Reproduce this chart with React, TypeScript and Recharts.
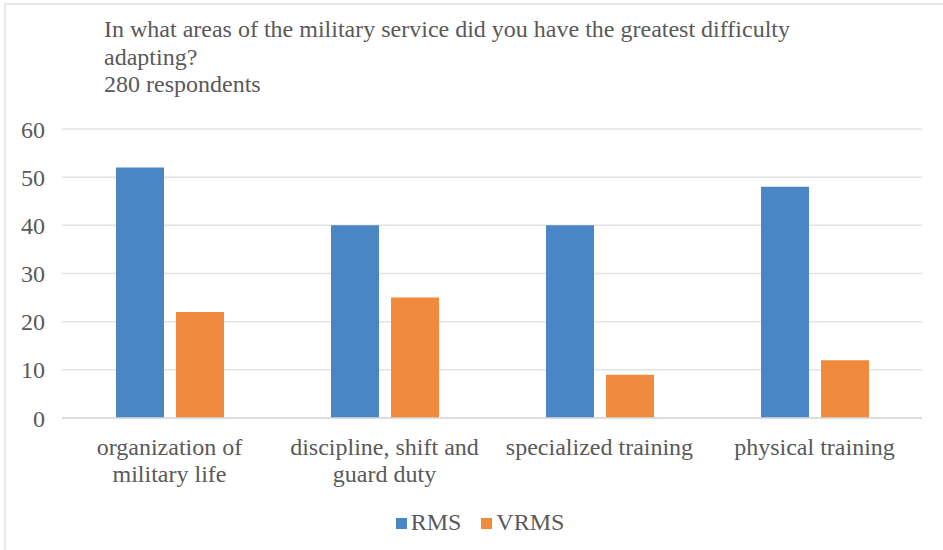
import React from "react";
import { BarChart, Bar, XAxis, YAxis, CartesianGrid, Legend } from "recharts";

const categories = [
  "organization of\nmilitary life",
  "discipline, shift and\nguard duty",
  "specialized training",
  "physical training",
];
const rmsValues = [52, 40, 40, 48];
const vrmsValues = [22, 25, 9, 12];
const yTicks = [0, 10, 20, 30, 40, 50, 60];
const titleLines = [
  "In what areas of the military service did you have the greatest difficulty",
  "adapting?",
  "280 respondents",
];
const seriesNames = ["RMS", "VRMS"];

const data = categories.map((c, i) => ({ name: c, RMS: rmsValues[i], VRMS: vrmsValues[i] }));

const FONT = "'Liberation Serif', 'Times New Roman', serif";
const TEXT = "#595959";
const BLUE = "#4A86C6";
const ORANGE = "#F08A3C";
const FS = 24;

const XTick = (props: any) => {
  const { x, y, payload } = props;
  const lines = String(payload.value).split("\n");
  return (
    <text x={x} y={y} textAnchor="middle" fill={TEXT} fontFamily={FONT} fontSize={FS}>
      {lines.map((l, i) => (
        <tspan key={i} x={x} dy={i === 0 ? 29 : 27}>
          {l}
        </tspan>
      ))}
    </text>
  );
};

const LegendContent = () => {
  const colors = [BLUE, ORANGE];
  return (
    <div
      style={{
        display: "flex",
        justifyContent: "center",
        paddingLeft: 38,
        height: 24,
        lineHeight: "24px",
        fontFamily: FONT,
        fontSize: FS,
        color: TEXT,
      }}
    >
      {seriesNames.map((n, i) => (
        <div key={n} style={{ display: "flex", alignItems: "center", marginLeft: i === 0 ? 0 : 20 }}>
          <span style={{ display: "inline-block", width: 11, height: 11, background: colors[i], marginRight: 4, marginTop: 2 }} />
          <span>{n}</span>
        </div>
      ))}
    </div>
  );
};

export default function App() {
  return (
    <div style={{ position: "absolute", left: 0, top: 0, width: 943, height: 550, background: "#fff", overflow: "hidden" }}>
      <div
        style={{
          position: "absolute",
          left: 4,
          top: 3,
          width: 960,
          height: 560,
          borderLeft: "2px solid #e8e8e8",
          borderTop: "2px solid #e8e8e8",
          boxSizing: "border-box",
        }}
      />
      <div
        style={{
          position: "absolute",
          left: 104,
          top: 16,
          fontFamily: FONT,
          fontSize: FS,
          lineHeight: "27.5px",
          color: TEXT,
          whiteSpace: "nowrap",
        }}
      >
        {titleLines.map((t, i) => (
          <div key={i}>{t}</div>
        ))}
      </div>
      <div style={{ position: "absolute", left: 0, top: 0 }}>
        <BarChart
          width={943}
          height={550}
          data={data}
          margin={{ top: 129, right: 21, left: 0, bottom: 16 }}
          barSize={48}
          barGap={12}
        >
          <CartesianGrid vertical={false} stroke="#e3e3e3" strokeWidth={1.5} />
          <XAxis
            dataKey="name"
            axisLine={{ stroke: "#d9d9d9", strokeWidth: 1.5 }}
            tickLine={false}
            height={92}
            interval={0}
            tick={<XTick />}
          />
          <YAxis
            domain={[0, 60]}
            ticks={yTicks}
            axisLine={false}
            tickLine={false}
            width={62}
            tickMargin={11}
            tick={{ fill: TEXT, fontFamily: FONT, fontSize: FS }}
          />
          <Legend verticalAlign="bottom" align="center" content={<LegendContent />} />
          <Bar dataKey="RMS" fill={BLUE} isAnimationActive={false} />
          <Bar dataKey="VRMS" fill={ORANGE} isAnimationActive={false} />
        </BarChart>
      </div>
    </div>
  );
}
